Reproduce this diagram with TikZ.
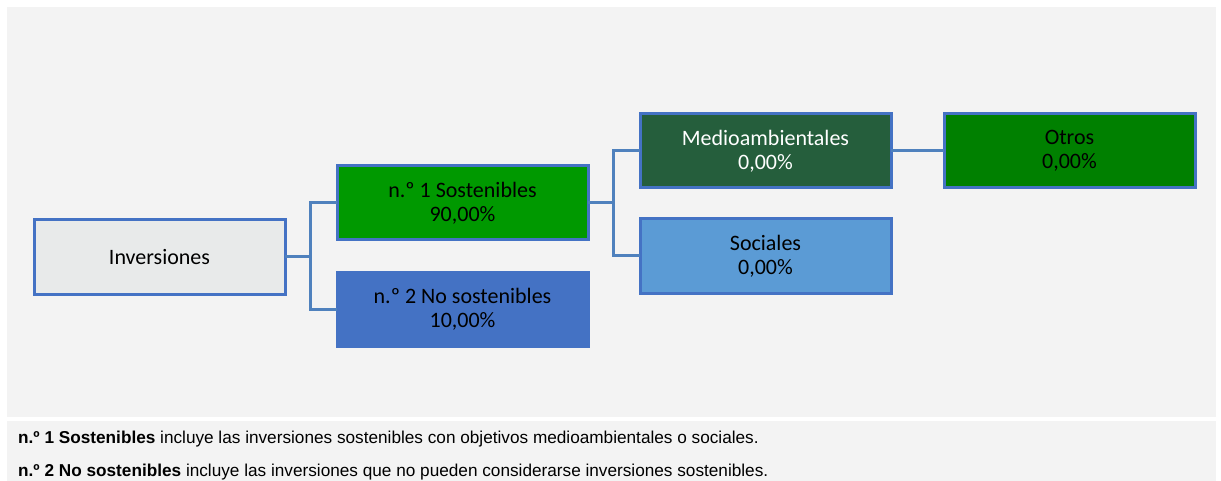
\documentclass[tikz,border=0pt]{standalone}
\usepackage{fontspec}
\setmainfont{Carlito}
\newfontfamily\footfont{Liberation Sans}
\definecolor{panel}{HTML}{F3F3F3}
\definecolor{bord}{HTML}{4472C4}
\definecolor{conn}{HTML}{4F81BD}
\definecolor{invfill}{HTML}{E8EAEA}
\definecolor{sosfill}{HTML}{009900}
\definecolor{nosfill}{HTML}{4472C4}
\definecolor{medfill}{HTML}{255E3C}
\definecolor{socfill}{HTML}{5B9BD5}
\definecolor{otrfill}{HTML}{008000}
\begin{document}
\begin{tikzpicture}[x=1pt,y=-1pt,
  box/.style={draw=bord,line width=3pt,minimum width=251pt,minimum height=74pt,inner sep=0pt,outer sep=0pt,align=center,font=\fontsize{22}{24}\selectfont,anchor=north west},
  conline/.style={draw=conn,line width=3pt},
  foot/.style={anchor=base west,font=\footfont\fontsize{17.2}{18}\selectfont,inner sep=0pt}]
\useasboundingbox (0,0) rectangle (1221,481);
\fill[white] (0,0) rectangle (1221,481);
\fill[panel] (7,7) rectangle (1216,417);
\fill[panel] (7,421) rectangle (1216,481);
\node[box,fill=invfill] (inv) at (34,220) {Inversiones};
\node[box,fill=sosfill] (sos) at (337,166) {n.º 1 Sostenibles\\90,00\%};
\node[box,fill=nosfill] (nos) at (337,272) {n.º 2 No sostenibles\\10,00\%};
\node[box,fill=medfill,text=white] (med) at (640,114) {Medioambientales\\0,00\%};
\node[box,fill=socfill] (soc) at (640,219) {Sociales\\0,00\%};
\node[box,fill=otrfill] (otr) at (944,114) {Otros\\0,00\%};
\draw[conline] (inv.east) -- ++(25,0) coordinate (j1);
\draw[conline] (sos.west) -| (j1) |- (nos.west);
\draw[conline] (sos.east) -- ++(25,0) coordinate (j2);
\draw[conline] (med.west) -| (j2) |- (soc.west);
\draw[conline] (med.east) -- (otr.west);
\node[foot] (f1) at (18,443) {\textbf{n.º 1 Sostenibles} incluye las inversiones sostenibles con objetivos medioambientales o sociales.};
\node[foot] (f2) at (18,476) {\textbf{n.º 2 No sostenibles} incluye las inversiones que no pueden considerarse inversiones sostenibles.};
\end{tikzpicture}
\end{document}
